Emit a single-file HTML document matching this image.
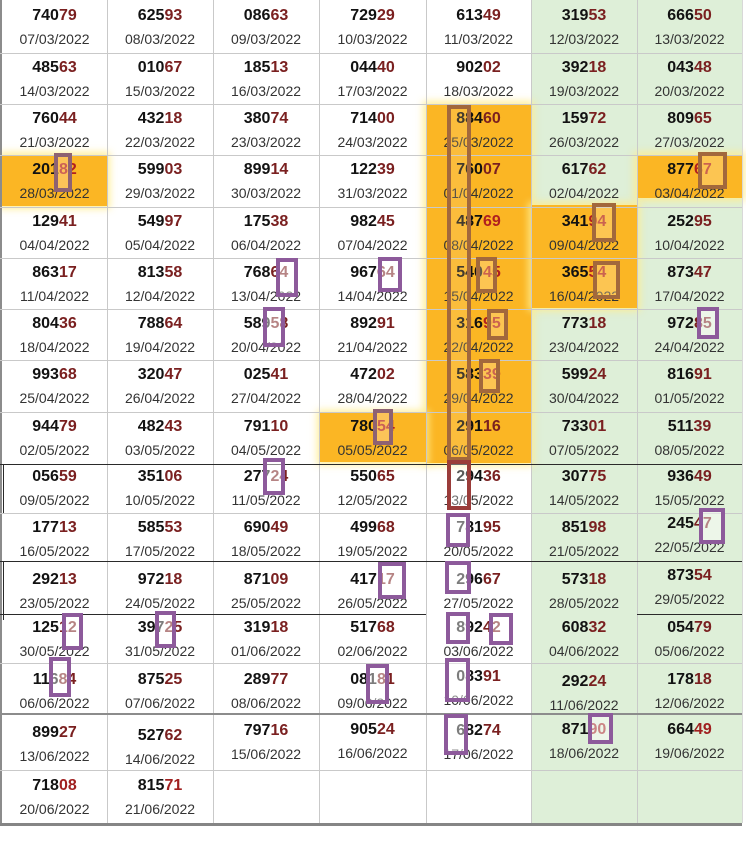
<!DOCTYPE html>
<html><head><meta charset="utf-8">
<style>
html,body{margin:0;padding:0;background:#fff;}
#g{position:relative;width:746px;height:853px;overflow:hidden;font-family:"Liberation Sans",Arial,sans-serif;}
.a{position:absolute;}
.vl{position:absolute;top:0;width:1px;height:823px;background:#c9c9c9;}
.hl{position:absolute;left:0;width:742px;height:1px;background:#c9c9c9;}
.or{position:absolute;background:#fbb624;box-shadow:0 0 7px 3px rgba(255,236,140,0.85);}
.cell{position:absolute;height:44px;text-align:center;}
.n{position:absolute;left:0;right:0;top:0;height:18px;line-height:18px;font-size:16px;font-weight:bold;color:#121212;}
.n b{color:#7a2020;}
.d{position:absolute;left:0;right:0;top:24px;height:16px;line-height:16px;font-size:14px;color:#333;}
.c0{left:2px;width:105px}.c1{left:107px;width:106px}.c2{left:213px;width:106px}.c3{left:319px;width:107px}
.c4{left:426px;width:105px}.c5{left:531px;width:106px}.c6{left:637px;width:105px}
.r0{top:7px}.r1{top:59px}.r2{top:110px}.r3{top:161px}.r4{top:213px}.r5{top:264px}.r6{top:315px}.r7{top:366px}
.r8{top:418px}.r9{top:468px}.r10{top:519px}.r11{top:571px}.r12{top:619px}.r13{top:671px}.r14{top:724px}.r15{top:777px}
.bx{position:absolute;box-sizing:border-box;border:4px solid #8d5a9b;background:rgba(255,255,255,0.45);}
.br{border-color:#a2683c;background:rgba(255,225,170,0.35);}
.mv{border-color:#8e6272;background:rgba(255,220,190,0.35);}
.dr{border-color:#9a3c3a;background:rgba(255,255,255,0.3);}
</style></head><body>
<div id="g">
<!-- green columns -->
<div class="a" style="left:531px;top:0;width:211px;height:823px;background:#deefd8;"></div>
<!-- orange highlights -->
<div class="or" style="left:426px;top:104px;width:105px;height:359px;"></div>
<div class="or" style="left:2px;top:155px;width:105px;height:51px;"></div>
<div class="or" style="left:637px;top:155px;width:105px;height:43px;"></div>
<div class="or" style="left:531px;top:205px;width:106px;height:103px;"></div>
<div class="or" style="left:320px;top:413px;width:106px;height:49px;"></div>

<!-- grid vertical -->
<div class="vl" style="left:107px"></div><div class="vl" style="left:213px"></div><div class="vl" style="left:319px"></div>
<div class="vl" style="left:426px"></div><div class="vl" style="left:531px"></div><div class="vl" style="left:637px"></div>
<div class="vl" style="left:742px;background:#d8d8d8"></div>
<div class="a" style="left:0;top:0;width:2px;height:826px;background:#8c8c8c;"></div>
<!-- grid horizontal -->
<div class="hl" style="top:53px"></div><div class="hl" style="top:104px"></div><div class="hl" style="top:155px"></div>
<div class="hl" style="top:207px"></div><div class="hl" style="top:258px"></div><div class="hl" style="top:309px"></div>
<div class="hl" style="top:360px"></div><div class="hl" style="top:412px"></div>
<div class="hl" style="top:464px;background:#2a2a2a"></div>
<div class="hl" style="top:513px"></div>
<div class="hl" style="top:561px;background:#2a2a2a"></div>
<div class="a" style="left:0;top:614px;width:426px;height:1px;background:#2a2a2a"></div>
<div class="a" style="left:637px;top:614px;width:105px;height:1px;background:#2a2a2a"></div>
<div class="hl" style="top:663px"></div>
<div class="hl" style="top:713px;height:2px;background:#8c8c8c"></div>
<div class="hl" style="top:770px"></div>
<div class="a" style="left:0;top:823px;width:742px;height:3px;background:#858585"></div>
<div class="a" style="left:3px;top:464px;width:1px;height:49px;background:#2a2a2a"></div>
<div class="a" style="left:3px;top:561px;width:1px;height:59px;background:#2a2a2a"></div>

<!-- cells -->
<div class="cell c0 r0"><div class="n">740<b>79</b></div><div class="d">07/03/2022</div></div>
<div class="cell c1 r0"><div class="n">625<b>93</b></div><div class="d">08/03/2022</div></div>
<div class="cell c2 r0"><div class="n">086<b>63</b></div><div class="d">09/03/2022</div></div>
<div class="cell c3 r0"><div class="n">729<b>29</b></div><div class="d">10/03/2022</div></div>
<div class="cell c4 r0"><div class="n">613<b>49</b></div><div class="d">11/03/2022</div></div>
<div class="cell c5 r0"><div class="n">319<b>53</b></div><div class="d">12/03/2022</div></div>
<div class="cell c6 r0"><div class="n">666<b>50</b></div><div class="d">13/03/2022</div></div>

<div class="cell c0 r1"><div class="n">485<b>63</b></div><div class="d">14/03/2022</div></div>
<div class="cell c1 r1"><div class="n">010<b>67</b></div><div class="d">15/03/2022</div></div>
<div class="cell c2 r1"><div class="n">185<b>13</b></div><div class="d">16/03/2022</div></div>
<div class="cell c3 r1"><div class="n">044<b>40</b></div><div class="d">17/03/2022</div></div>
<div class="cell c4 r1"><div class="n">902<b>02</b></div><div class="d">18/03/2022</div></div>
<div class="cell c5 r1"><div class="n">392<b>18</b></div><div class="d">19/03/2022</div></div>
<div class="cell c6 r1"><div class="n">043<b>48</b></div><div class="d">20/03/2022</div></div>

<div class="cell c0 r2"><div class="n">760<b>44</b></div><div class="d">21/03/2022</div></div>
<div class="cell c1 r2"><div class="n">432<b>18</b></div><div class="d">22/03/2022</div></div>
<div class="cell c2 r2"><div class="n">380<b>74</b></div><div class="d">23/03/2022</div></div>
<div class="cell c3 r2"><div class="n">714<b>00</b></div><div class="d">24/03/2022</div></div>
<div class="cell c4 r2"><div class="n">884<b>60</b></div><div class="d">25/03/2022</div></div>
<div class="cell c5 r2"><div class="n">159<b>72</b></div><div class="d">26/03/2022</div></div>
<div class="cell c6 r2"><div class="n">809<b>65</b></div><div class="d">27/03/2022</div></div>

<div class="cell c0 r3"><div class="n">201<b style="color:#b02020">82</b></div><div class="d">28/03/2022</div></div>
<div class="cell c1 r3"><div class="n">599<b>03</b></div><div class="d">29/03/2022</div></div>
<div class="cell c2 r3"><div class="n">899<b>14</b></div><div class="d">30/03/2022</div></div>
<div class="cell c3 r3"><div class="n">122<b>39</b></div><div class="d">31/03/2022</div></div>
<div class="cell c4 r3"><div class="n">760<b>07</b></div><div class="d">01/04/2022</div></div>
<div class="cell c5 r3"><div class="n">617<b>62</b></div><div class="d">02/04/2022</div></div>
<div class="cell c6 r3"><div class="n">877<b style="color:#b02020">67</b></div><div class="d">03/04/2022</div></div>

<div class="cell c0 r4"><div class="n">129<b>41</b></div><div class="d">04/04/2022</div></div>
<div class="cell c1 r4"><div class="n">549<b>97</b></div><div class="d">05/04/2022</div></div>
<div class="cell c2 r4"><div class="n">175<b>38</b></div><div class="d">06/04/2022</div></div>
<div class="cell c3 r4"><div class="n">982<b>45</b></div><div class="d">07/04/2022</div></div>
<div class="cell c4 r4"><div class="n">487<b style="color:#b02020">69</b></div><div class="d">08/04/2022</div></div>
<div class="cell c5 r4"><div class="n">341<b style="color:#b02020">94</b></div><div class="d">09/04/2022</div></div>
<div class="cell c6 r4"><div class="n">252<b>95</b></div><div class="d">10/04/2022</div></div>

<div class="cell c0 r5"><div class="n">863<b>17</b></div><div class="d">11/04/2022</div></div>
<div class="cell c1 r5"><div class="n">813<b>58</b></div><div class="d">12/04/2022</div></div>
<div class="cell c2 r5"><div class="n">768<b>64</b></div><div class="d">13/04/2022</div></div>
<div class="cell c3 r5"><div class="n">967<b>64</b></div><div class="d">14/04/2022</div></div>
<div class="cell c4 r5"><div class="n">540<b style="color:#b02020">45</b></div><div class="d">15/04/2022</div></div>
<div class="cell c5 r5"><div class="n">365<b style="color:#b02020">54</b></div><div class="d">16/04/2022</div></div>
<div class="cell c6 r5"><div class="n">873<b>47</b></div><div class="d">17/04/2022</div></div>

<div class="cell c0 r6"><div class="n">804<b>36</b></div><div class="d">18/04/2022</div></div>
<div class="cell c1 r6"><div class="n">788<b>64</b></div><div class="d">19/04/2022</div></div>
<div class="cell c2 r6"><div class="n">589<b>58</b></div><div class="d">20/04/2022</div></div>
<div class="cell c3 r6"><div class="n">892<b>91</b></div><div class="d">21/04/2022</div></div>
<div class="cell c4 r6"><div class="n">316<b style="color:#b02020">95</b></div><div class="d">22/04/2022</div></div>
<div class="cell c5 r6"><div class="n">773<b>18</b></div><div class="d">23/04/2022</div></div>
<div class="cell c6 r6"><div class="n">972<b>85</b></div><div class="d">24/04/2022</div></div>

<div class="cell c0 r7"><div class="n">993<b>68</b></div><div class="d">25/04/2022</div></div>
<div class="cell c1 r7"><div class="n">320<b>47</b></div><div class="d">26/04/2022</div></div>
<div class="cell c2 r7"><div class="n">025<b>41</b></div><div class="d">27/04/2022</div></div>
<div class="cell c3 r7"><div class="n">472<b>02</b></div><div class="d">28/04/2022</div></div>
<div class="cell c4 r7"><div class="n">583<b style="color:#b02020">39</b></div><div class="d">29/04/2022</div></div>
<div class="cell c5 r7"><div class="n">599<b>24</b></div><div class="d">30/04/2022</div></div>
<div class="cell c6 r7"><div class="n">816<b>91</b></div><div class="d">01/05/2022</div></div>

<div class="cell c0 r8"><div class="n">944<b>79</b></div><div class="d">02/05/2022</div></div>
<div class="cell c1 r8"><div class="n">482<b>43</b></div><div class="d">03/05/2022</div></div>
<div class="cell c2 r8"><div class="n">791<b>10</b></div><div class="d">04/05/2022</div></div>
<div class="cell c3 r8"><div class="n">780<b style="color:#b02020">54</b></div><div class="d">05/05/2022</div></div>
<div class="cell c4 r8"><div class="n">291<b>16</b></div><div class="d">06/05/2022</div></div>
<div class="cell c5 r8"><div class="n">733<b>01</b></div><div class="d">07/05/2022</div></div>
<div class="cell c6 r8"><div class="n">511<b>39</b></div><div class="d">08/05/2022</div></div>

<div class="cell c0 r9"><div class="n">056<b>59</b></div><div class="d">09/05/2022</div></div>
<div class="cell c1 r9"><div class="n">351<b>06</b></div><div class="d">10/05/2022</div></div>
<div class="cell c2 r9"><div class="n">277<b>24</b></div><div class="d">11/05/2022</div></div>
<div class="cell c3 r9"><div class="n">550<b>65</b></div><div class="d">12/05/2022</div></div>
<div class="cell c4 r9"><div class="n">294<b>36</b></div><div class="d">13/05/2022</div></div>
<div class="cell c5 r9"><div class="n">307<b>75</b></div><div class="d">14/05/2022</div></div>
<div class="cell c6 r9"><div class="n">936<b>49</b></div><div class="d">15/05/2022</div></div>

<div class="cell c0 r10"><div class="n">177<b>13</b></div><div class="d">16/05/2022</div></div>
<div class="cell c1 r10"><div class="n">585<b>53</b></div><div class="d">17/05/2022</div></div>
<div class="cell c2 r10"><div class="n">690<b>49</b></div><div class="d">18/05/2022</div></div>
<div class="cell c3 r10"><div class="n">499<b>68</b></div><div class="d">19/05/2022</div></div>
<div class="cell c4 r10"><div class="n">781<b>95</b></div><div class="d">20/05/2022</div></div>
<div class="cell c5 r10"><div class="n">851<b>98</b></div><div class="d">21/05/2022</div></div>
<div class="cell c6 r10" style="top:515px"><div class="n">245<b>47</b></div><div class="d">22/05/2022</div></div>

<div class="cell c0 r11"><div class="n">292<b>13</b></div><div class="d">23/05/2022</div></div>
<div class="cell c1 r11"><div class="n">972<b>18</b></div><div class="d">24/05/2022</div></div>
<div class="cell c2 r11"><div class="n">871<b>09</b></div><div class="d">25/05/2022</div></div>
<div class="cell c3 r11"><div class="n">417<b>17</b></div><div class="d">26/05/2022</div></div>
<div class="cell c4 r11"><div class="n">296<b>67</b></div><div class="d">27/05/2022</div></div>
<div class="cell c5 r11"><div class="n">573<b>18</b></div><div class="d">28/05/2022</div></div>
<div class="cell c6 r11" style="top:567px"><div class="n">873<b>54</b></div><div class="d">29/05/2022</div></div>

<div class="cell c0 r12"><div class="n">125<b>12</b></div><div class="d">30/05/2022</div></div>
<div class="cell c1 r12"><div class="n">397<b>25</b></div><div class="d">31/05/2022</div></div>
<div class="cell c2 r12"><div class="n">319<b>18</b></div><div class="d">01/06/2022</div></div>
<div class="cell c3 r12"><div class="n">517<b>68</b></div><div class="d">02/06/2022</div></div>
<div class="cell c4 r12"><div class="n">892<b>42</b></div><div class="d">03/06/2022</div></div>
<div class="cell c5 r12"><div class="n">608<b>32</b></div><div class="d">04/06/2022</div></div>
<div class="cell c6 r12"><div class="n">054<b>79</b></div><div class="d">05/06/2022</div></div>

<div class="cell c0 r13"><div class="n">116<b>84</b></div><div class="d">06/06/2022</div></div>
<div class="cell c1 r13"><div class="n">875<b>25</b></div><div class="d">07/06/2022</div></div>
<div class="cell c2 r13"><div class="n">289<b>77</b></div><div class="d">08/06/2022</div></div>
<div class="cell c3 r13"><div class="n">081<b>81</b></div><div class="d">09/06/2022</div></div>
<div class="cell c4 r13" style="top:668px"><div class="n">083<b>91</b></div><div class="d">10/06/2022</div></div>
<div class="cell c5 r13" style="top:673px"><div class="n">292<b>24</b></div><div class="d">11/06/2022</div></div>
<div class="cell c6 r13"><div class="n">178<b>18</b></div><div class="d">12/06/2022</div></div>

<div class="cell c0 r14"><div class="n">899<b>27</b></div><div class="d">13/06/2022</div></div>
<div class="cell c1 r14" style="top:727px"><div class="n">527<b>62</b></div><div class="d">14/06/2022</div></div>
<div class="cell c2 r14" style="top:722px"><div class="n">797<b>16</b></div><div class="d">15/06/2022</div></div>
<div class="cell c3 r14" style="top:721px"><div class="n">905<b>24</b></div><div class="d">16/06/2022</div></div>
<div class="cell c4 r14" style="top:722px"><div class="n">682<b>74</b></div><div class="d">17/06/2022</div></div>
<div class="cell c5 r14" style="top:721px"><div class="n">871<b style="color:#a02020">90</b></div><div class="d">18/06/2022</div></div>
<div class="cell c6 r14" style="top:721px"><div class="n">664<b style="color:#a02020">49</b></div><div class="d">19/06/2022</div></div>

<div class="cell c0 r15"><div class="n">718<b style="color:#a02020">08</b></div><div class="d">20/06/2022</div></div>
<div class="cell c1 r15"><div class="n">815<b style="color:#a02020">71</b></div><div class="d">21/06/2022</div></div>

<!-- boxes -->
<div class="bx br" style="left:447px;top:105px;width:24px;height:356px;background:rgba(255,220,160,0.2);"></div>
<div class="bx mv" style="left:54px;top:153px;width:18px;height:39px;"></div>
<div class="bx br" style="left:698px;top:152px;width:29px;height:37px;"></div>
<div class="bx br" style="left:592px;top:203px;width:24px;height:39px;"></div>
<div class="bx br" style="left:593px;top:261px;width:27px;height:38px;"></div>
<div class="bx br" style="left:476px;top:257px;width:21px;height:36px;"></div>
<div class="bx br" style="left:487px;top:309px;width:21px;height:31px;"></div>
<div class="bx br" style="left:479px;top:359px;width:21px;height:34px;"></div>
<div class="bx mv" style="left:373px;top:409px;width:20px;height:36px;"></div>
<div class="bx" style="left:697px;top:307px;width:22px;height:32px;"></div>
<div class="bx" style="left:378px;top:257px;width:24px;height:35px;"></div>
<div class="bx" style="left:276px;top:258px;width:22px;height:39px;"></div>
<div class="bx" style="left:263px;top:307px;width:22px;height:40px;"></div>
<div class="bx" style="left:263px;top:458px;width:22px;height:37px;"></div>
<div class="bx" style="left:62px;top:613px;width:21px;height:37px;"></div>
<div class="bx" style="left:155px;top:611px;width:21px;height:37px;"></div>
<div class="bx" style="left:49px;top:657px;width:22px;height:40px;"></div>
<div class="bx" style="left:366px;top:664px;width:23px;height:40px;"></div>
<div class="bx dr" style="left:447px;top:460px;width:24px;height:50px;"></div>
<div class="bx" style="left:446px;top:513px;width:24px;height:34px;"></div>
<div class="bx" style="left:699px;top:508px;width:26px;height:36px;"></div>
<div class="bx" style="left:378px;top:562px;width:28px;height:37px;"></div>
<div class="bx" style="left:445px;top:561px;width:26px;height:33px;"></div>
<div class="bx" style="left:446px;top:612px;width:24px;height:32px;"></div>
<div class="bx" style="left:489px;top:613px;width:24px;height:32px;"></div>
<div class="bx" style="left:445px;top:658px;width:25px;height:44px;"></div>
<div class="bx" style="left:444px;top:714px;width:24px;height:41px;"></div>
<div class="bx" style="left:588px;top:713px;width:25px;height:31px;"></div>
</div>
</body></html>
